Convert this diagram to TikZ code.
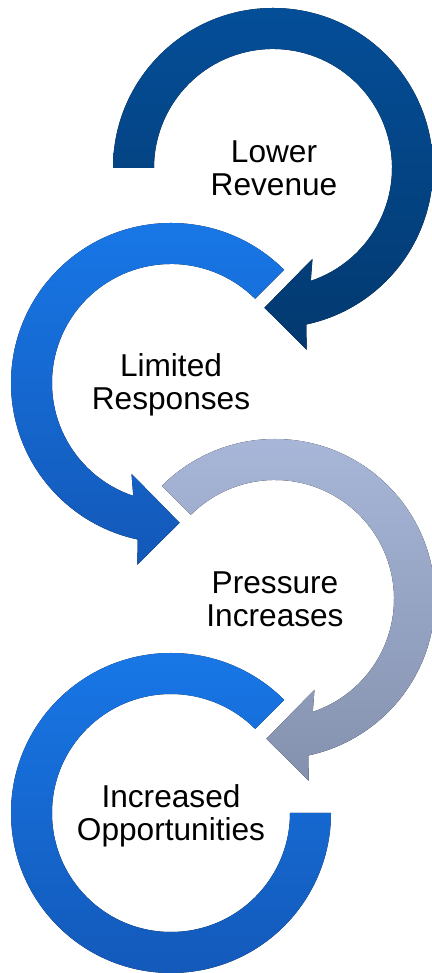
\documentclass[tikz,border=0pt]{standalone}
\usepackage{fontspec}
\setmainfont{Liberation Sans}
\usepackage{xcolor}
\usepackage{tikz}
\usetikzlibrary{calc}
\definecolor{navytop}{HTML}{044E98}
\definecolor{navybot}{HTML}{03396F}
\definecolor{skytop}{HTML}{1878E8}
\definecolor{skybot}{HTML}{1358B8}
\definecolor{greytop}{HTML}{A9B8DA}
\definecolor{greybot}{HTML}{8491AE}
\def\cwring#1#2#3#4{
	\fill[top color=#3,bottom color=#4,shift={#1}] (#2:160) arc[start angle=#2,end angle=-78,radius=160]
		--(-79.5:185)--(-93.5:140)--(-66.5:99)--(-71.5:119) arc[start angle=-71.5,end angle=#2,radius=119]--cycle;}
\def\ccwring#1#2#3#4{
	\fill[top color=#3,bottom color=#4,shift={#1}] (#2:160) arc[start angle=#2,end angle=258,radius=160]
		--(259.5:185)--(273.5:140)--(246.5:99)--(251.5:119) arc[start angle=251.5,end angle=#2,radius=119]--cycle;}
\tikzset{lbl/.style={align=center,font=\fontsize{18}{19}\selectfont}}

\begin{document}
\begin{tikzpicture}[x=0.02cm,y=0.02cm]
					\useasboundingbox (0,0) rectangle (432,973);
					\cwring{(273,805)}{180}{navytop}{navybot}
					\ccwring{(171,590)}{45}{skytop}{skybot}
					\cwring{(275,374)}{135}{greytop}{greybot}
					\fill[top color=skytop,bottom color=skybot,shift={(171,160)}] (45:160) arc[start angle=45,end angle=360,radius=160]
						--(0:119) arc[start angle=360,end angle=45,radius=119]--cycle;
					\node[lbl] (revenue) at (274,805) {Lower\\Revenue};
					\node[lbl] (responses) at (171,588) {Limited\\Responses};
					\node[lbl] (pressure) at (275,374) {Pressure\\Increases};
					\node[lbl] (opportunities) at (171,157) {Increased\\Opportunities};
				\end{tikzpicture}
\end{document}
